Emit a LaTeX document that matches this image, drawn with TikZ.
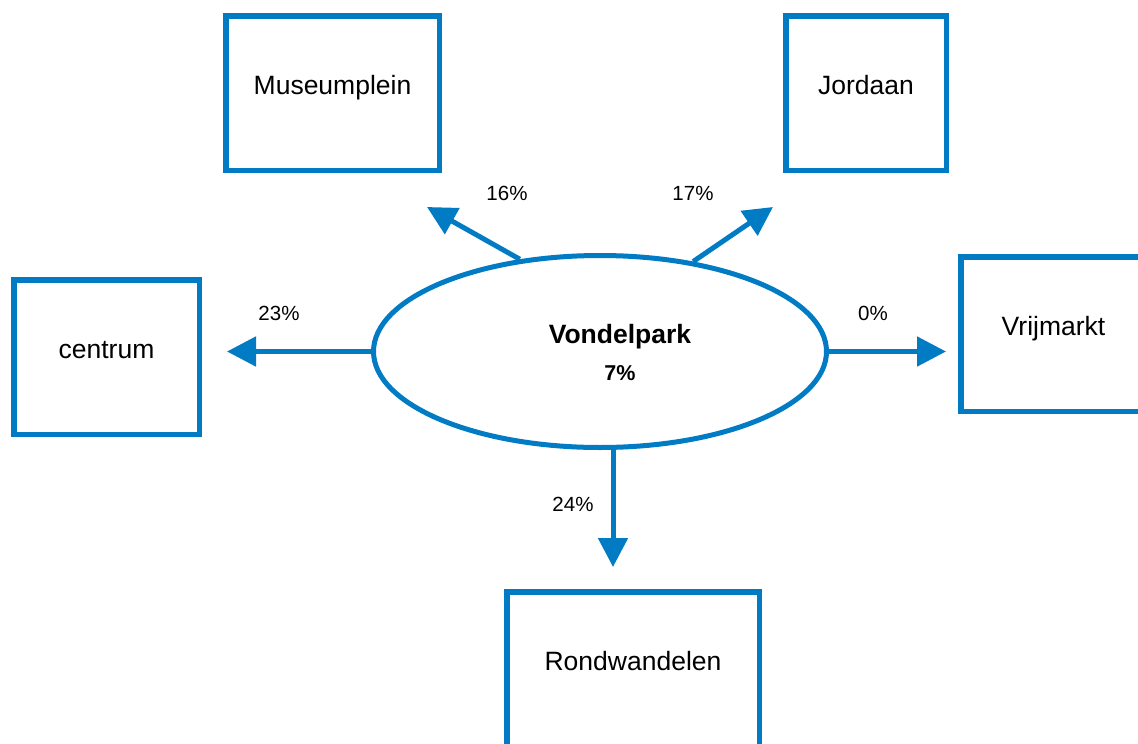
\documentclass[tikz,border=0pt]{standalone}
\usepackage{fontspec}
\setmainfont{Liberation Sans}
\usetikzlibrary{arrows.meta, shapes.geometric}
\definecolor{azul}{RGB}{0,123,196}
\begin{document}
\begin{tikzpicture}[x=1pt, y=-1pt,
	caixa/.style={draw=azul, line width=5.5pt, rectangle, inner sep=0pt, minimum height=154.5pt, text height=19pt, text depth=16pt, font=\fontsize{26.5}{30}\selectfont},
	seta/.style={color=azul, line width=5pt, -{Triangle[width=29pt, length=29pt]}},
	rotulo/.style={inner sep=0pt, text height=14.7pt, text depth=0pt, font=\fontsize{20.5}{24}\selectfont}]
	
		\clip (0., 0.) rectangle (1138., 744.);
		
		% Blocos
		
		\draw node[caixa, minimum width=213.5pt] (noMuseum) at (332.5, 93.) {Museumplein} ;
		
		\draw node[caixa, minimum width=160.5pt] (noJordaan) at (866., 93.) {Jordaan} ;
		
		\draw node[caixa, minimum width=185.5pt] (noCentrum) at (106.5, 357.) {centrum} ;
		
		\draw node[caixa, minimum width=185.5pt] (noVrij) at (1053.5, 334.) {Vrijmarkt} ;
		
		\draw node[caixa, minimum width=252.5pt] (noRond) at (633., 669.) {Rondwandelen} ;
		
		% Centro
		
		\draw node[ellipse, draw=azul, line width=5pt, inner sep=0pt, minimum width=453pt, minimum height=192pt] (noPark) at (600., 351.5) {} ;
		
		\draw node[inner sep=0pt, text height=19pt, text depth=0pt, font=\fontsize{26.5}{30}\selectfont\bfseries] (noNome) at (620., 333.5) {Vondelpark} ;
		
		\draw node[inner sep=0pt, text height=15.5pt, text depth=0pt, font=\fontsize{21.5}{25}\selectfont\bfseries] (noTaxa) at (620., 372.5) {7\%} ;
		
		% Setas
		
		\coordinate (pC) at (227., 351.5);
		
		\coordinate (pV) at (946., 351.5);
		
		\coordinate (pR) at (613., 567.);
		
		\coordinate (pM) at (427., 207.);
		
		\coordinate (pJ) at (773., 207.);
		
		\draw[seta] (noPark.west) -- (pC);
		
		\draw[seta] (noPark.east) -- (pV);
		
		\draw[seta] (noPark.south -| pR) -- (pR);
		
		\draw[seta] (noPark.131) -- (pM);
		
		\draw[seta] (noPark.44) -- (pJ);
		
		\draw node[rotulo] (no16) at (507., 193.) {16\%} ;
		
		\draw node[rotulo] (no17) at (693., 193.) {17\%} ;
		
		\draw node[rotulo] (no23) at (279., 313.) {23\%} ;
		
		\draw node[rotulo] (no0) at (873., 313.) {0\%} ;
		
		\draw node[rotulo] (no24) at (573., 504.5) {24\%} ;
		
	\end{tikzpicture}
\end{document}
